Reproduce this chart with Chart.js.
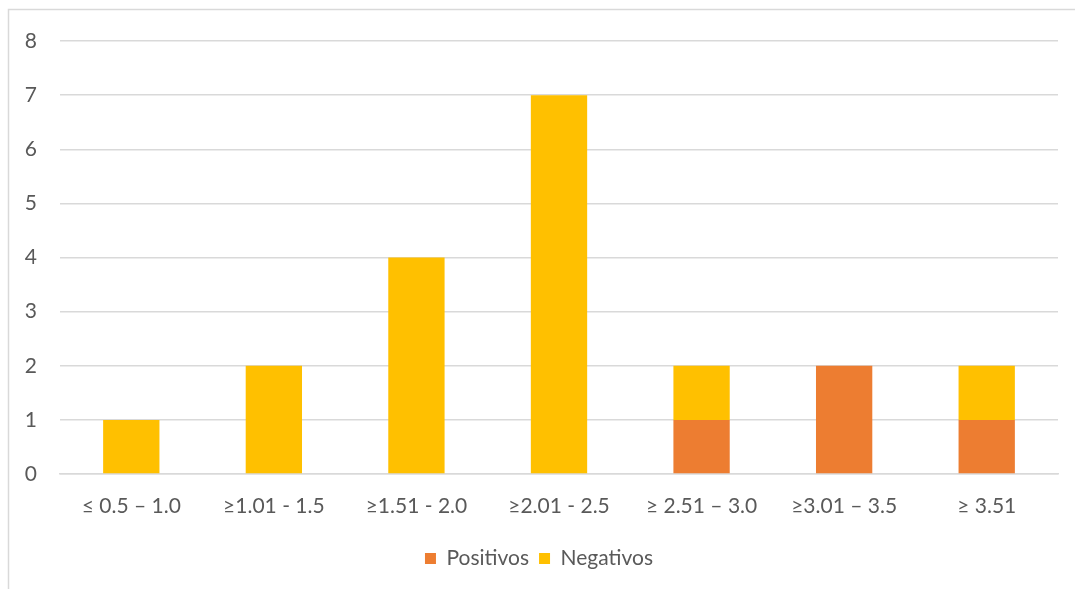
<!DOCTYPE html>
<html>
<head>
<meta charset="utf-8">
<script src="https://cdn.jsdelivr.net/npm/chart.js@4.4.1/dist/chart.umd.min.js"></script>
<style>
  html, body { margin: 0; padding: 0; background: #ffffff; }
  #wrap { position: relative; width: 1075px; height: 589px; }
</style>
</head>
<body>
<div id="wrap"><canvas id="chart" width="1075" height="589"></canvas></div>
<script>
// Score ranges on the x axis
const categories = ['≤ 0.5 – 1.0', '≥1.01 - 1.5', '≥1.51 - 2.0', '≥2.01 - 2.5', '≥ 2.51 – 3.0', '≥3.01 – 3.5', '≥ 3.51'];
// Case counts per range
const positivos = [0, 0, 0, 0, 1, 2, 1];
const negativos = [1, 2, 4, 7, 1, 0, 1];
// Value axis
const yTicks = [0, 1, 2, 3, 4, 5, 6, 7, 8];

const FONT = "Lato, 'Noto Sans', sans-serif";
const TEXT = '#595959';
const GRID = '#d9d9d9';

// Thin frame around the whole chart
const framePlugin = {
  id: 'frame',
  beforeDraw(chart) {
    const ctx = chart.ctx;
    ctx.save();
    ctx.fillStyle = '#ffffff';
    ctx.fillRect(0, 0, chart.width, chart.height);
    ctx.strokeStyle = GRID;
    ctx.lineWidth = 1.5;
    ctx.beginPath();
    ctx.moveTo(8.5, chart.height + 2);
    ctx.lineTo(8.5, 9.5);
    ctx.lineTo(chart.width + 2, 9.5);
    ctx.stroke();
    ctx.restore();
  }
};

new Chart(document.getElementById('chart'), {
  type: 'bar',
  data: {
    labels: categories,
    datasets: [
      { label: 'Positivos', data: positivos, backgroundColor: '#ED7D31', borderWidth: 0 },
      { label: 'Negativos', data: negativos, backgroundColor: '#FFC000', borderWidth: 0 }
    ]
  },
  options: {
    responsive: false,
    animation: false,
    devicePixelRatio: 1,
    layout: { padding: { left: 20, right: 17, top: 41, bottom: 10 } },
    datasets: { bar: { categoryPercentage: 1.0, barPercentage: 0.395 } },
    plugins: {
      tooltip: { enabled: false },
      legend: {
        position: 'bottom',
        labels: {
          font: { family: FONT, size: 21 },
          color: TEXT,
          boxWidth: 11,
          boxHeight: 11,
          padding: 10
        }
      }
    },
    scales: {
      x: {
        stacked: true,
        grid: { display: false, drawTicks: false },
        border: { display: true, color: GRID, width: 1.5 },
        ticks: { font: { family: FONT, size: 21 }, color: TEXT, padding: 20, maxRotation: 0 },
        afterFit(scale) { scale.height = 64; }
      },
      y: {
        stacked: true,
        min: 0,
        max: 8,
        afterBuildTicks(scale) { scale.ticks = yTicks.map(v => ({ value: v })); },
        grid: { color: GRID, lineWidth: 1.5, drawTicks: false },
        border: { display: false },
        ticks: { font: { family: FONT, size: 21 }, color: TEXT, padding: 23 },
        afterFit(scale) { scale.width = 40; }
      }
    }
  },
  plugins: [framePlugin]
});
</script>
</body>
</html>
